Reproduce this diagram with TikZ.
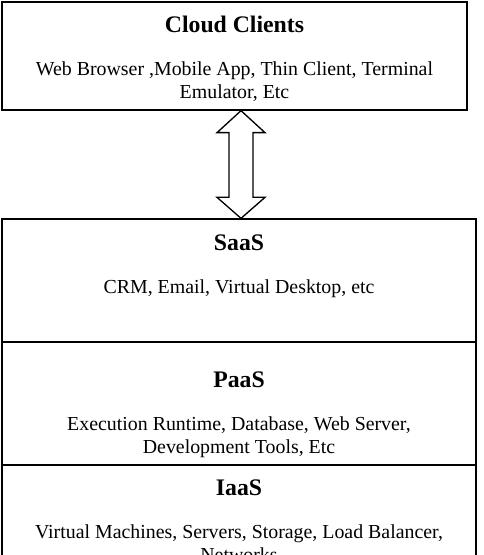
\documentclass[tikz,border=0pt]{standalone}
\usepackage{fontspec}
\setmainfont{Liberation Serif}
\usetikzlibrary{calc, fit, math}

\tikzset{
  layerbox/.style={draw, line width=1pt, rectangle, inner sep=0pt},
  layertitle/.style={font=\fontsize{17.8}{21}\selectfont\bfseries, anchor=base, inner sep=0pt},
  layertext/.style={font=\fontsize{14.9}{17}\selectfont, anchor=base, inner sep=0pt},
}

\begin{document}
\begin{tikzpicture}[x=0.75pt,y=-0.75pt]
\tikzmath{
\xl=2;
\xr=476;
\xc=(\xl+\xr)/2;
\xa=241;
}
\useasboundingbox (0,0) rectangle (483,555);
\clip (0,0) rectangle (483,555);

%%%%%%%%%% clients
\node[layerbox, fit={(2,2) (467,110)}] (clients) {};
\node[layertitle] (cctitle) at (234.5,33) {Cloud Clients};
\node[layertext] (cctext1) at (234.5,76) {Web Browser ,Mobile App, Thin Client, Terminal};
\node[layertext] (cctext2) at (234.5,99) {Emulator, Etc};

%%%%%%%%%% service stack
\node[layerbox, fit={(\xl,219) (\xr,342)}] (saas) {};
\node[layerbox, fit={(\xl,342) (\xr,465)}] (paas) {};
\node[layerbox, fit={(\xl,465) (\xr,590)}] (iaas) {};

\node[layertitle] (saastitle) at (\xc,251) {SaaS};
\node[layertext] (saastext) at (\xc,293) {CRM, Email, Virtual Desktop, etc};

\node[layertitle] (paastitle) at (\xc,387) {PaaS};
\node[layertext] (paastext1) at (\xc,430) {Execution Runtime, Database, Web Server,};
\node[layertext] (paastext2) at (\xc,453) {Development Tools, Etc};

\node[layertitle] (iaastitle) at (\xc,495) {IaaS};
\node[layertext] (iaastext1) at (\xc,538) {Virtual Machines, Servers, Storage, Load Balancer,};
\node[layertext] (iaastext2) at (\xc,561) {Networks};

%%%%%%%%%% double arrow
\coordinate (axis) at (\xa,0);
\coordinate (atop) at (clients.south -| axis);
\coordinate (abot) at (saas.north -| axis);
\draw[line width=1pt, line join=miter, fill=white]
  (atop) -- ++(24,22) -- ++(-12,0) -- ($(abot)+(12,-21)$) -- ++(12,0)
  -- (abot) -- ++(-24,-21) -- ++(12,0) -- ($(atop)+(-12,22)$) -- ++(-12,0) -- cycle;

\end{tikzpicture}
\end{document}
